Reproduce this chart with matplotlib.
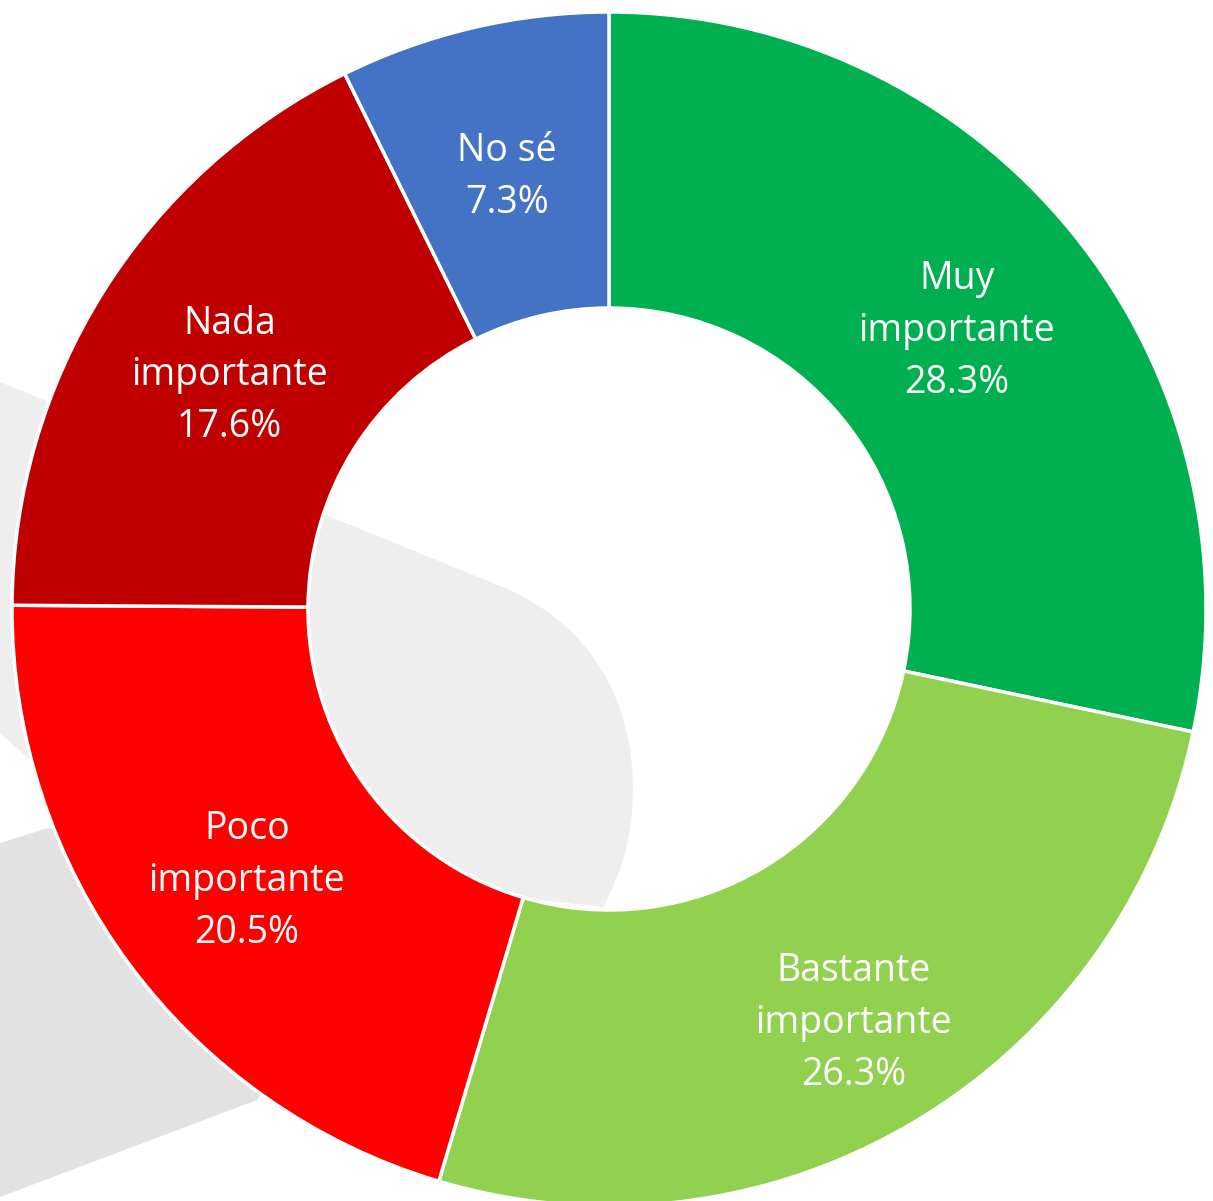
import numpy as np
import matplotlib.pyplot as plt
from matplotlib.patches import Polygon, PathPatch
from matplotlib.path import Path

# datos del gráfico
categorias = ["Muy\nimportante", "Bastante\nimportante", "Poco\nimportante",
              "Nada\nimportante", "No sé"]
porcentajes = [28.3, 26.3, 20.5, 17.6, 7.3]
colores = ["#00B050", "#92D050", "#FF0000", "#C00000", "#4472C4"]
# distancia de cada etiqueta (fracción del radio)
dist_etiquetas = [0.75, 0.80, 0.755, 0.75, 0.75]

W, H = 1213, 1201
fig = plt.figure(figsize=(W / 100, H / 100), dpi=100)
ax = fig.add_axes([0, 0, 1, 1])
ax.set_xlim(0, W)
ax.set_ylim(0, H)
ax.axis("off")

# formas grises de fondo (decoración de la diapositiva), píxeles con y hacia abajo
hoja_pts = [(0, 382), (500, 586),
            (590, 622), (633, 700), (633, 790),
            (633, 840), (620, 875), (603, 907),
            (450, 890), (300, 840), (30, 760), (0, 733), (0, 382)]
hoja_cod = [Path.MOVETO, Path.LINETO,
            Path.CURVE4, Path.CURVE4, Path.CURVE4,
            Path.CURVE4, Path.CURVE4, Path.CURVE4,
            Path.LINETO, Path.LINETO, Path.LINETO, Path.LINETO, Path.CLOSEPOLY]
ax.add_patch(PathPatch(Path([(x, H - y) for x, y in hoja_pts], hoja_cod),
                       facecolor="#EEEEEE", edgecolor="none", zorder=0))
inferior = [(0, 843), (48, 828), (250, 850), (350, 1000), (257, 1100), (0, 1197)]
ax.add_patch(Polygon([(x, H - y) for x, y in inferior], closed=True,
                     facecolor="#E2E2E2", edgecolor="none", zorder=0))

R = 597
cx, cy = 609, H - 609
wedges, _ = ax.pie(
    porcentajes,
    colors=colores,
    startangle=90,
    counterclock=False,
    radius=R,
    center=(cx, cy),
    wedgeprops=dict(width=296, edgecolor="white", linewidth=2.5),
    frame=True,
)

for w, c, p, d in zip(wedges, categorias, porcentajes, dist_etiquetas):
    ang = np.deg2rad((w.theta1 + w.theta2) / 2)
    x = cx + d * R * np.cos(ang)
    y = cy + d * R * np.sin(ang) - 4
    ax.text(x, y, f"{c}\n{p:.1f}%", color="white", fontsize=27,
            family="Open Sans", ha="center", va="center",
            multialignment="center", linespacing=1.48)

ax.set_xlim(0, W)
ax.set_ylim(0, H)
ax.axis("off")

fig.savefig("out.png", dpi=100)
